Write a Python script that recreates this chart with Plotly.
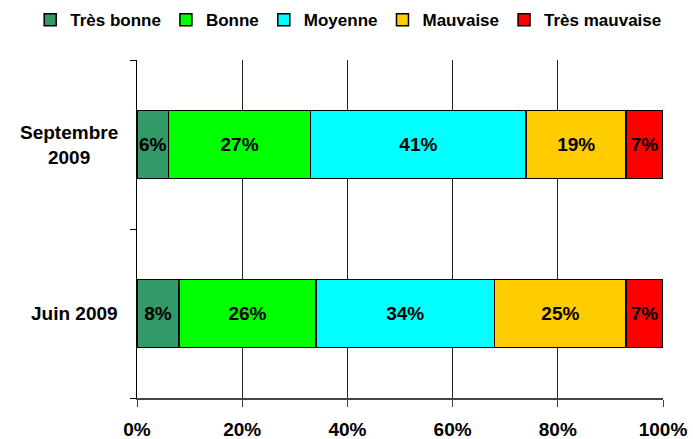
import plotly.graph_objects as go

categories = ["Juin 2009", "Septembre 2009"]
category_labels = ["Juin 2009", "Septembre<br>2009"]
series_names = ["Très bonne", "Bonne", "Moyenne", "Mauvaise", "Très mauvaise"]
tres_bonne = [8, 6]
bonne = [26, 27]
moyenne = [34, 41]
mauvaise = [25, 19]
tres_mauvaise = [7, 7]
x_ticks = [0, 20, 40, 60, 80, 100]
x_tick_labels = ["0%", "20%", "40%", "60%", "80%", "100%"]

series_values = [tres_bonne, bonne, moyenne, mauvaise, tres_mauvaise]
colors = ["#339966", "#00FF00", "#00FFFF", "#FFCC00", "#FF0000"]

FONT = "Liberation Sans"
FS = 19

fig = go.Figure()
for name, vals, col in zip(series_names, series_values, colors):
    fig.add_trace(go.Bar(
        y=categories, x=vals, name=name, orientation="h",
        marker=dict(color=col, line=dict(color="black", width=1.5)),
        text=[f"{v}%" for v in vals],
        textposition="inside", insidetextanchor="middle", textangle=0,
        textfont=dict(color="black", size=FS, family=FONT, weight="bold"),
        hoverinfo="skip",
    ))

for cat, lab in zip(categories, category_labels):
    fig.add_annotation(
        x=-0.032, y=cat, xref="paper", yref="y", text=lab,
        xanchor="right", yanchor="middle", align="center", showarrow=False,
        font=dict(family=FONT, size=FS, color="black", weight="bold"),
    )

fig.update_layout(
    width=693, height=439,
    barmode="stack", bargap=0.6,
    plot_bgcolor="white", paper_bgcolor="white",
    margin=dict(l=137, r=30, t=60, b=41, autoexpand=False),
    font=dict(family=FONT, size=FS, color="black", weight="bold"),
    uniformtext=dict(minsize=FS, mode="show"),
    legend=dict(
        orientation="h", xref="paper", yref="paper",
        x=-0.203, xanchor="left", y=1.118, yanchor="middle",
        font=dict(family=FONT, size=17, color="black", weight="bold"),
        itemwidth=30, traceorder="normal", tracegroupgap=0,
        bgcolor="rgba(0,0,0,0)",
    ),
    showlegend=True,
)
fig.update_xaxes(
    range=[0, 100], tickvals=x_ticks, ticktext=x_tick_labels,
    showgrid=True, gridcolor="#222222", gridwidth=1,
    showline=True, linecolor="#444444", linewidth=1.5,
    ticks="outside", ticklen=7, tickcolor="#444444",
    ticklabelstandoff=6, zeroline=False, fixedrange=True,
)
fig.update_yaxes(
    categoryorder="array", categoryarray=categories,
    showticklabels=False, showgrid=False,
    showline=True, linecolor="black", linewidth=1,
    ticks="outside", ticklen=6, tickson="boundaries", tickcolor="black",
    fixedrange=True,
)

fig.write_html("out.html", config={"displayModeBar": False},
               post_script="document.body.style.margin='0';")
